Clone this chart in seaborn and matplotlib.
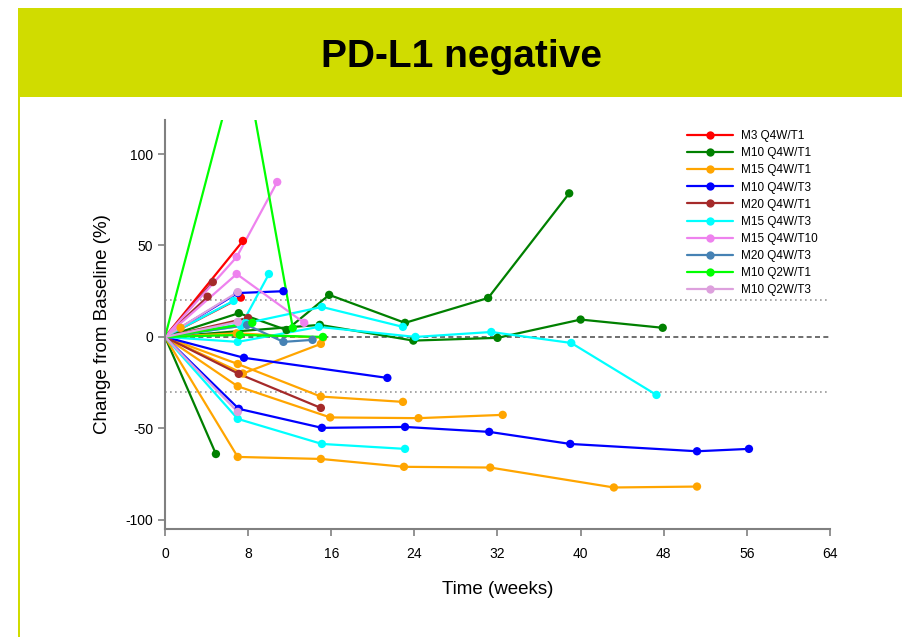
import pandas as pd
import numpy as np
import matplotlib
matplotlib.use('Agg')
import matplotlib.pyplot as plt
from matplotlib.lines import Line2D
from matplotlib.patches import Rectangle
import seaborn as sns

# treatment arms and their colours (legend order)
arms = ['M3 Q4W/T1', 'M10 Q4W/T1', 'M15 Q4W/T1', 'M10 Q4W/T3', 'M20 Q4W/T1',
        'M15 Q4W/T3', 'M15 Q4W/T10', 'M20 Q4W/T3', 'M10 Q2W/T1', 'M10 Q2W/T3']
arm_colors = ['red', 'green', 'orange', 'blue', 'brown',
              'cyan', 'violet', 'steelblue', 'lime', 'plum']

# per patient: arm, weeks, % change from baseline
patients = [
    ('M3 Q4W/T1', [0, 7.5], [0, 52.5]),
    ('M3 Q4W/T1', [0, 7.3], [0, 21.5]),
    ('M10 Q4W/T1', [0, 7.1, 11.7, 15.8, 23.1, 31.1, 38.9], [0, 13, 3.8, 23, 7.7, 21.3, 78.5]),
    ('M10 Q4W/T1', [0, 14.9, 23.9, 32.0, 40.0, 47.9], [0, 6.6, -2, -0.5, 9.5, 5]),
    ('M10 Q4W/T1', [0, 4.9], [0, -64]),
    ('M15 Q4W/T1', [0, 7, 15, 23, 31.3, 43.2, 51.2], [0, -65.6, -66.7, -71, -71.4, -82.3, -81.8]),
    ('M15 Q4W/T1', [0, 7, 15.9, 24.4, 32.5], [0, -27, -44, -44.4, -42.6]),
    ('M15 Q4W/T1', [0, 7, 15, 22.9], [0, -14.8, -32.6, -35.5]),
    ('M15 Q4W/T1', [0, 7.5, 15], [0, -20, -3.8]),
    ('M15 Q4W/T1', [0, 1.5], [0, 5]),
    ('M15 Q4W/T1', [0, 6.9, 15.2], [0, 2, -0.5]),
    ('M10 Q4W/T3', [0, 7, 11.4], [0, 24, 25]),
    ('M10 Q4W/T3', [0, 7.6, 21.4], [0, -11.4, -22.4]),
    ('M10 Q4W/T3', [0, 7.1, 15.1, 23.1, 31.2, 39, 51.2, 56.2], [0, -39.3, -49.7, -49.2, -51.9, -58.5, -62.5, -61.2]),
    ('M20 Q4W/T1', [0, 4.6], [0, 30]),
    ('M20 Q4W/T1', [0, 4.1], [0, 22]),
    ('M20 Q4W/T1', [0, 8], [0, 10.4]),
    ('M20 Q4W/T1', [0, 7.1, 15], [0, -20.2, -38.8]),
    ('M15 Q4W/T3', [0, 7, 15.1, 23.1], [0, -44.8, -58.5, -61.2]),
    ('M15 Q4W/T3', [0, 7, 14.8, 24.1, 31.4, 39.1, 47.3], [0, -2.7, 5.5, 0, 2.7, -3.3, -31.7]),
    ('M15 Q4W/T3', [0, 7.8, 15.1, 22.9], [0, 7.5, 16.4, 5.5]),
    ('M15 Q4W/T3', [0, 7.3, 10], [0, 6, 34.4]),
    ('M15 Q4W/T3', [0, 6.6], [0, 19.7]),
    ('M15 Q4W/T10', [0, 6.9, 13.4], [0, 34.4, 7.7]),
    ('M15 Q4W/T10', [0, 6.9, 10.8], [0, 43.7, 84.7]),
    ('M20 Q4W/T3', [0, 7.9, 11.4, 14.2], [0, 6.5, -2.7, -1.6]),
    ('M10 Q2W/T1', [0, 7.4, 12.3], [0, 160, 4.9]),
    ('M10 Q2W/T1', [0, 8.4], [0, 7.7]),
    ('M10 Q2W/T1', [0, 7.2, 15.2], [0, 1.1, 0]),
    ('M10 Q2W/T3', [0, 7], [0, 24.5]),
    ('M10 Q2W/T3', [0, 7], [0, 8.2]),
    ('M10 Q2W/T3', [0, 7], [0, -41]),
]

rows = []
for pid, (arm, weeks, chg) in enumerate(patients):
    for i, (w, c) in enumerate(zip(weeks, chg)):
        rows.append({'pid': pid, 'arm': arm, 'week': w, 'change': c, 'visit': i})
df = pd.DataFrame(rows)
palette = dict(zip(arms, arm_colors))

sns.set_style('ticks')
plt.rcParams['font.family'] = ['Liberation Sans', 'DejaVu Sans']
plt.rcParams['axes.unicode_minus'] = False
plt.rcParams['text.color'] = 'black'
plt.rcParams['axes.labelcolor'] = 'black'
plt.rcParams['xtick.labelcolor'] = 'black'
plt.rcParams['ytick.labelcolor'] = 'black'

fig = plt.figure(figsize=(9.03, 6.37), dpi=100)

# header band and left border
fig.patches.append(Rectangle((18 / 903, 1 - 97 / 637), 1, 89 / 637, transform=fig.transFigure,
                             facecolor='#d0dc00', edgecolor='none', zorder=0))
fig.patches.append(Rectangle((18 / 903, 0), 2 / 903, 1 - 97 / 637, transform=fig.transFigure,
                             facecolor='#d0dc00', edgecolor='none', zorder=0))
fig.text(462 / 903, 1 - 57 / 637, 'PD-L1 negative', ha='center', va='center',
         fontsize=28, fontweight='bold', color='black')

ax = fig.add_axes([165 / 903, 1 - 529 / 637, 665 / 903, 409 / 637])

ax.axhline(20, color='#999999', ls=(0, (1, 2)), lw=1.2, zorder=1)
ax.axhline(-30, color='#999999', ls=(0, (1, 2)), lw=1.2, zorder=1)
ax.axhline(0, color='#555555', ls=(0, (3, 2)), lw=1.2, zorder=1)

sns.lineplot(data=df, x='week', y='change', hue='arm', units='pid', estimator=None,
             sort=False, palette=palette, hue_order=arms, linewidth=1.6,
             legend=False, ax=ax, zorder=2)
sns.scatterplot(data=df[df['visit'] > 0], x='week', y='change', hue='arm',
                palette=palette, hue_order=arms, s=36, edgecolor='none',
                legend=False, ax=ax, zorder=3)

ax.set_xlim(0, 64)
ax.set_ylim(-105, 118.6)
ax.set_xticks(np.arange(0, 65, 8))
ax.set_yticks([-100, -50, 0, 50, 100])
ax.tick_params(axis='both', labelsize=10, length=5, width=1.2, color='#808080',
               direction='out', labelcolor='black')
ax.tick_params(axis='x', pad=8)
for side in ['top', 'right']:
    ax.spines[side].set_visible(False)
for side in ['left', 'bottom']:
    ax.spines[side].set_color('#808080')
    ax.spines[side].set_linewidth(1.5)

ax.set_xlabel('Time (weeks)', fontsize=13.5, color='black')
ax.set_ylabel('Change from Baseline (%)', fontsize=13.5, color='black')
ax.xaxis.set_label_coords(0.5, -0.127)
ax.yaxis.set_label_coords(-0.081, 0.5)

handles = [Line2D([0], [0], color=c, lw=1.6, marker='o', markersize=6, markeredgewidth=0)
           for c in arm_colors]
leg = ax.legend(handles, arms, loc='upper left', bbox_to_anchor=(0.772, 0.995), frameon=False,
                fontsize=8.5, handlelength=3.9, handletextpad=0.7, labelspacing=0.43,
                borderaxespad=0.3)
for t in leg.get_texts():
    t.set_color('black')

fig.savefig('out.png', dpi=100)
